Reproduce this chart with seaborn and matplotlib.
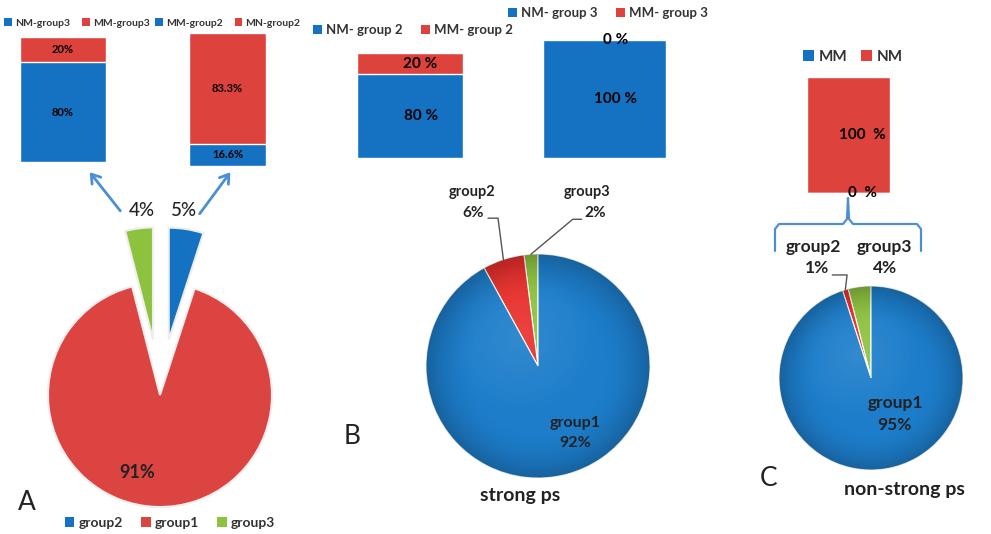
import numpy as np
import pandas as pd
import matplotlib
matplotlib.use("Agg")
import matplotlib.pyplot as plt
from matplotlib.patches import Patch, Circle, FancyArrowPatch
from matplotlib.lines import Line2D
import seaborn as sns

sns.set_theme(style="white")
plt.rcParams["font.family"] = ["Lato", "DejaVu Sans"]

W, H = 991, 534

BLUE = "#1572C2"
RED = "#DD423D"
PIE_RED_A = "#DB4441"
PIE_BLUE = "#1D7DCA"
PIE_RED = "#E8302C"
GREEN = "#8DC23F"
LINE_BLUE = "#4A8FD6"
TXT = "#222222"

# Panel A: share of each group, and MM/NM split inside group3 and group2
a_groups = ["group2", "group1", "group3"]
a_share = [5, 91, 4]
a_g3_labels = ["NM-group3", "MM-group3"]
a_g3_vals = [80, 20]
a_g2_labels = ["MM-group2", "MN-group2"]
a_g2_vals = [16.6, 83.3]

# Panel B: strong ps
b_groups = ["group3", "group2", "group1"]
b_share = [2, 6, 92]
b_g2_labels = ["NM- group 2", "MM- group 2"]
b_g2_vals = [80, 20]
b_g3_labels = ["NM- group 3", "MM- group 3"]
b_g3_vals = [100, 0]

# Panel C: non-strong ps
c_groups = ["group3", "group2", "group1"]
c_share = [4, 1, 95]
c_bar_labels = ["MM", "NM"]
c_bar_vals = [0, 100]

fig = plt.figure(figsize=(W / 100, H / 100), dpi=100)
fig.patch.set_facecolor("white")


def box(x0, y0, x1, y1):
    return fig.add_axes([x0 / W, 1 - y1 / H, (x1 - x0) / W, (y1 - y0) / H])


def ff(x, y):
    return (x / W, 1 - y / H)


def fmt_pct(v, sep=""):
    return f"{v:g}{sep}%"


def stacked_bar(rect, vals, name, fs, sep="", dx=0.0):
    """Two-segment 100% bar: first value in blue at the bottom, second in red on top."""
    ax = box(*rect)
    df = pd.DataFrame({"bar": [name], "total": [vals[0] + vals[1]], "bottom": [vals[0]]})
    sns.barplot(data=df, x="bar", y="total", color=RED, width=1, saturation=1,
                edgecolor="white", linewidth=1, errorbar=None, ax=ax)
    sns.barplot(data=df, x="bar", y="bottom", color=BLUE, width=1, saturation=1,
                edgecolor="white", linewidth=1, errorbar=None, ax=ax)
    ax.set_xlim(-0.5, 0.5)
    ax.set_ylim(0, 100)
    ax.axis("off")
    ax.text(dx, vals[0] / 2, fmt_pct(vals[0], sep), ha="center", va="center",
            fontsize=fs, fontweight="bold", color="black", clip_on=False, zorder=5)
    ax.text(dx, vals[0] + vals[1] / 2, fmt_pct(vals[1], sep), ha="center", va="center",
            fontsize=fs, fontweight="bold", color="black", clip_on=False, zorder=5)
    return ax


def legend(labels, colors, cx, cy, fs, spacing=1.0):
    handles = [Patch(facecolor=c, edgecolor="none") for c in colors]
    fig.legend(handles, labels, loc="center", bbox_to_anchor=ff(cx, cy),
               ncol=len(labels), frameon=False, handlelength=0.7, handleheight=0.7,
               handletextpad=0.3, columnspacing=spacing, borderpad=0, borderaxespad=0,
               prop={"size": fs, "weight": "bold"}, labelcolor="#333333")


def pie_ax(cx, cy, r, lim):
    s = r * lim
    return box(cx - s, cy - s, cx + s, cy + s)


def finish_pie(ax, lim):
    ax.set_xlim(-lim, lim)
    ax.set_ylim(-lim, lim)
    ax.set_aspect("equal")
    ax.axis("off")


def shade(ax):
    """Soft rim darkening and a faint highlight for a rounded look."""
    n = 300
    yy, xx = np.mgrid[-1:1:n * 1j, -1:1:n * 1j]
    rr = np.hypot(xx, yy)
    dark = np.zeros((n, n, 4))
    dark[..., 3] = np.clip((rr - 0.55) / 0.45, 0, 1) ** 2 * 0.22
    im = ax.imshow(dark, extent=(-1, 1, -1, 1), origin="lower", zorder=3,
                   interpolation="bilinear")
    im.set_clip_path(Circle((0, 0), 1, transform=ax.transData))
    light = np.ones((n, n, 4))
    light[..., 3] = np.clip(1 - np.hypot(xx + 0.15, yy - 0.25) / 0.7, 0, 1) * 0.10
    im2 = ax.imshow(light, extent=(-1, 1, -1, 1), origin="lower", zorder=3,
                    interpolation="bilinear")
    im2.set_clip_path(Circle((0, 0), 1, transform=ax.transData))


def mid_point(w, r=1.0):
    t = np.deg2rad((w.theta1 + w.theta2) / 2)
    return r * np.cos(t), r * np.sin(t)


# ---------------- Panel A ----------------
legend(a_g3_labels, [BLUE, RED], 77, 23, 7.5, spacing=1.2)
legend(a_g2_labels, [BLUE, RED], 228, 23, 7.5, spacing=1.2)
stacked_bar((20, 37, 106, 162), a_g3_vals, "group3", 8)
stacked_bar((189, 33, 266, 166), a_g2_vals, "group2", 8)

limA = 1.7
axA = pie_ax(160, 395, 112, limA)
wA, _ = axA.pie(a_share, colors=[BLUE, PIE_RED_A, GREEN], startangle=90,
                counterclock=False, explode=[0.5, 0, 0.5],
                wedgeprops=dict(edgecolor="#EEEEEE", linewidth=1.5))
finish_pie(axA, limA)
axA.text(-0.16, 1.65, f"{a_share[2]}%", ha="center", va="center", fontsize=13.5,
         fontweight="medium", color=TXT)
axA.text(0.21, 1.65, f"{a_share[0]}%", ha="center", va="center", fontsize=13.5,
         fontweight="medium", color=TXT)
axA.text(-0.2, -0.69, f"{a_share[1]}%", ha="center", va="center", fontsize=13,
         fontweight="bold", color=TXT)

# arrows linking the exploded slices to their breakdown bars
for (x0, y0), (x1, y1) in [((122, 213), (88, 170)), ((198, 216), (232, 170))]:
    fig.add_artist(FancyArrowPatch(
        ff(x0, y0), ff(x1, y1), transform=fig.transFigure,
        arrowstyle="->,head_length=6,head_width=4",
        mutation_scale=1, color=LINE_BLUE, lw=2))

legend(a_groups, [BLUE, PIE_RED_A, GREEN], 170, 523, 10, spacing=1.3)
fig.text(*ff(27, 503), "A", ha="center", va="center", fontsize=19, color=TXT)

# ---------------- Panel B ----------------
legend(b_g2_labels, [BLUE, RED], 413, 30, 9.5, spacing=1.4)
legend(b_g3_labels, [BLUE, RED], 608, 13, 9.5, spacing=1.4)
stacked_bar((357, 53, 463, 158), b_g2_vals, "group2", 11, sep=" ", dx=0.1)
stacked_bar((543, 40, 666, 158), b_g3_vals, "group3", 11, sep=" ", dx=0.09)

limB = 1.15
axB = pie_ax(538, 366, 112, limB)
wB, _ = axB.pie(b_share, colors=[GREEN, PIE_RED, PIE_BLUE], startangle=90,
                counterclock=True, wedgeprops=dict(edgecolor="white", linewidth=0.8))
shade(axB)
finish_pie(axB, limB)
axB.text(-0.59, 1.55, b_groups[1], ha="center", va="center", fontsize=10.5, fontweight="bold", color=TXT)
axB.text(-0.58, 1.37, f"{b_share[1]}%", ha="center", va="center", fontsize=11, fontweight="bold", color=TXT)
axB.text(0.44, 1.55, b_groups[0], ha="center", va="center", fontsize=10.5, fontweight="bold", color=TXT)
axB.text(0.51, 1.37, f"{b_share[0]}%", ha="center", va="center", fontsize=11, fontweight="bold", color=TXT)
axB.text(0.33, -0.51, b_groups[2], ha="center", va="center", fontsize=11.5, fontweight="bold", color=TXT, zorder=6)
axB.text(0.33, -0.69, f"{b_share[2]}%", ha="center", va="center", fontsize=11.5, fontweight="bold", color=TXT, zorder=6)
px, py = mid_point(wB[1])
axB.plot([-0.446, -0.357, px], [1.32, 1.32, py], color="#555555", lw=1, clip_on=False)
px, py = mid_point(wB[0])
axB.plot([0.39, 0.31, px], [1.31, 1.31, py], color="#555555", lw=1, clip_on=False)
fig.text(*ff(352, 437), "B", ha="center", va="center", fontsize=19, color=TXT)
fig.text(*ff(520, 495), "strong ps", ha="center", va="center", fontsize=14, fontweight="bold", color=TXT)

# ---------------- Panel C ----------------
legend(c_bar_labels, [BLUE, RED], 853, 57, 11, spacing=0.9)
stacked_bar((807, 77, 890, 193), c_bar_vals, "NM", 11, sep="  ", dx=0.17)

# brace grouping the two small slices under the bar
bx = [775, 775, 779, 843, 847, 848, 849, 853, 917, 921, 921]
by = [251, 229, 224, 224, 219, 198, 219, 224, 224, 229, 251]
fig.add_artist(Line2D([x / W for x in bx], [1 - y / H for y in by],
                      transform=fig.transFigure, color=LINE_BLUE, lw=1.6,
                      solid_joinstyle="round"))

limC = 1.15
axC = pie_ax(871, 378, 92, limC)
wC, _ = axC.pie(c_share, colors=[GREEN, PIE_RED, PIE_BLUE], startangle=90,
                counterclock=True, wedgeprops=dict(edgecolor="white", linewidth=0.8))
shade(axC)
finish_pie(axC, limC)
axC.text(-0.63, 1.42, c_groups[1], ha="center", va="center", fontsize=12.5, fontweight="bold", color=TXT)
axC.text(0.15, 1.42, c_groups[0], ha="center", va="center", fontsize=12.5, fontweight="bold", color=TXT)
axC.text(-0.59, 1.20, f"{c_share[1]}%", ha="center", va="center", fontsize=12.5, fontweight="bold", color=TXT)
axC.text(0.15, 1.20, f"{c_share[0]}%", ha="center", va="center", fontsize=12.5, fontweight="bold", color=TXT)
axC.text(0.26, -0.27, c_groups[2], ha="center", va="center", fontsize=12.5, fontweight="bold", color=TXT, zorder=6)
axC.text(0.26, -0.51, f"{c_share[2]}%", ha="center", va="center", fontsize=12.5, fontweight="bold", color=TXT, zorder=6)
px, py = mid_point(wC[1])
axC.plot([-0.42, -0.26, px], [1.12, 1.12, py], color="#555555", lw=1, clip_on=False)
fig.text(*ff(769, 478), "C", ha="center", va="center", fontsize=19, color=TXT)
fig.text(*ff(904, 490), "non-strong ps", ha="center", va="center", fontsize=14, fontweight="bold", color=TXT)

fig.savefig("out.png", dpi=100, facecolor="white")
